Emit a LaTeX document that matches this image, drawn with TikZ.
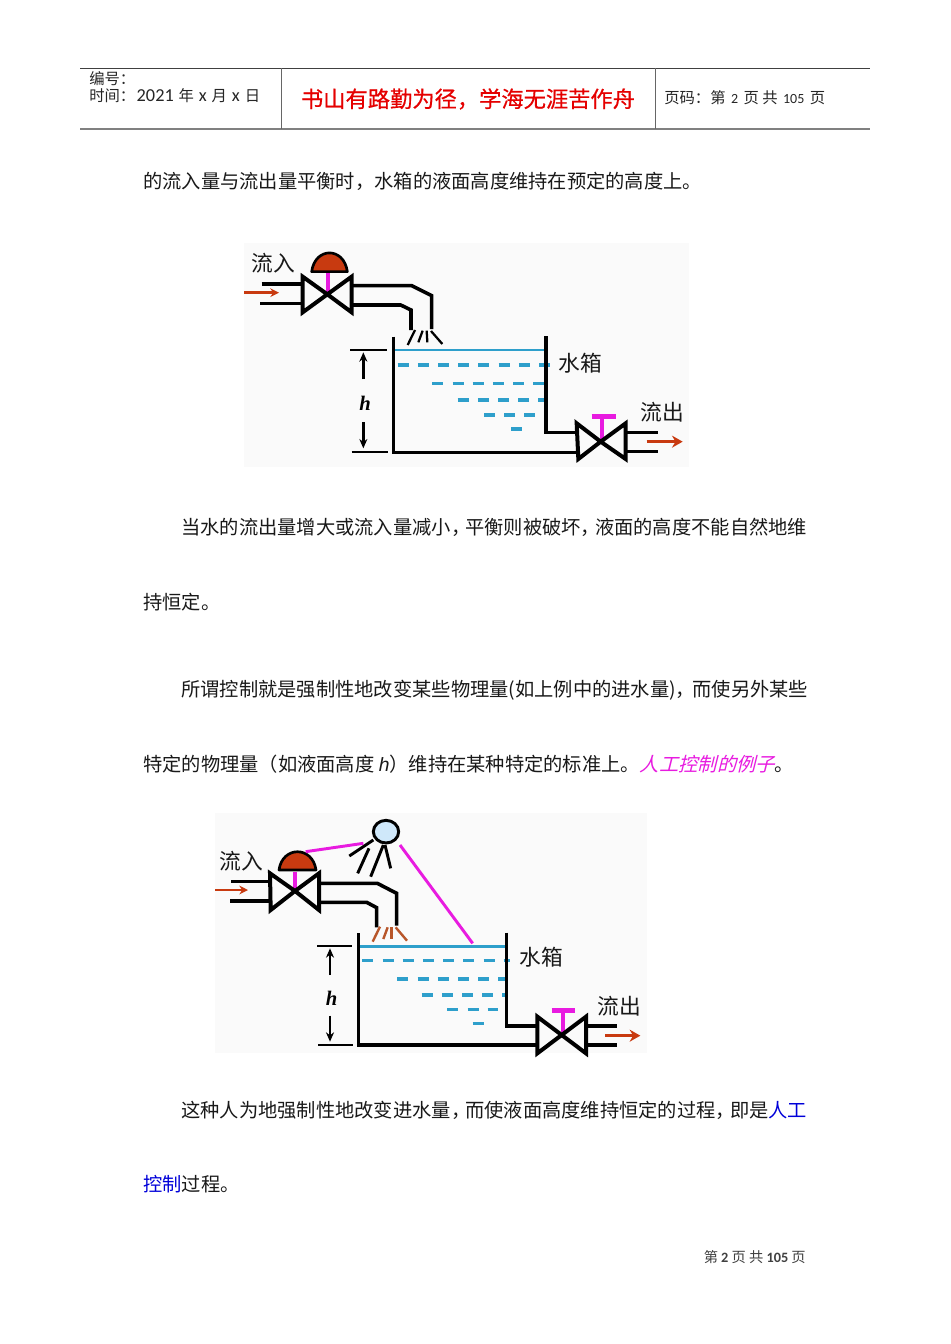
\documentclass[tikz,border=0pt]{standalone}
\usepackage{fontspec}
\usetikzlibrary{arrows.meta}
\setmainfont{Noto Sans CJK SC}
\newfontfamily\cjk{Noto Sans CJK SC}
\newfontfamily\cjkmed[FakeBold=0.6]{Noto Sans CJK SC}
\newfontfamily\cjkslant[FakeSlant=0.25]{Noto Sans CJK SC}
\newfontfamily\lat{Carlito}
\newcommand{\hlat}[1]{\hspace{1.1pt}{\lat\fontsize{13.7}{15}\selectfont #1}\hspace{1.1pt}}
\newcommand{\plat}[1]{\hspace{1.5pt}{\lat\fontsize{10.5}{15}\selectfont #1}\hspace{1.5pt}}
\definecolor{water}{HTML}{2E9FCB}
\definecolor{rust}{HTML}{C83A10}
\definecolor{mag}{HTML}{E81BE0}
\definecolor{spray}{HTML}{B8562A}
\definecolor{bg}{HTML}{FAFAFA}
\definecolor{face}{HTML}{CFE8FA}
\tikzset{
 body/.style={anchor=base west,inner sep=0,font=\cjk\fontsize{14.45}{16}\selectfont,text=black!90},
 hdr/.style={anchor=base west,inner sep=0,font=\cjk\fontsize{11.5}{13}\selectfont,text=black!85},
 pipe/.style={draw=black,line width=2.7pt,line cap=butt,line join=miter},
 valve/.style={pipe,line width=3pt},
 stem/.style={draw=mag,line width=3.2pt},
 wdash/.style={draw=water,line width=2.3pt,dash pattern=on 8.25pt off 6.9pt},
 wline/.style={draw=water,line width=2.2pt},
 tick/.style={draw=black,line width=1.7pt},
 harrow/.style={draw=black,line width=1.8pt,-{Stealth[length=7pt,width=6pt]}},
 flow/.style={draw=rust,line width=1.8pt,-{Stealth[length=6.5pt,width=6.5pt]}},
 flowb/.style={draw=rust,line width=2.6pt,-{Stealth[length=8pt,width=9pt]}},
 lbl/.style={inner sep=0,font=\cjk\fontsize{16.3}{17}\selectfont,text=black!90},
 hlabel/.style={inner sep=0,font=\fontspec{Liberation Serif}\bfseries\itshape\fontsize{15.5}{16}\selectfont},
 thinspray/.style={draw=black,line width=1.7pt},
 orangespray/.style={draw=spray,line width=1.8pt},
 person/.style={draw=black,line width=2.2pt},
 dome/.style={draw=black,fill=rust,line width=2pt,line join=round},
 wire/.style={draw=mag,line width=2.2pt},
}
\begin{document}
\begin{tikzpicture}[x=0.75pt,y=-0.75pt]
\useasboundingbox (0,0) rectangle (950,1344);
\fill[white] (0,0) rectangle (950,1344);
% header
\draw[black!75,line width=.7pt] (80,68.5) -- (870,68.5);
\draw[black!50,line width=1.1pt] (80,129) -- (870,129);
\draw[black!60,line width=.6pt] (281,68.5) -- (281,129);
\draw[black!60,line width=.6pt] (655,68.5) -- (655,129);
\node[hdr] (h1) at (89,85) {编号：};
\node[hdr] (h2) at (89,102) {时间：\hlat{2021} 年 \hlat{x} 月 \hlat{x} 日};
\node[anchor=center,inner sep=0,font=\cjkmed\fontsize{16.7}{18}\selectfont,text=red!90!black] (h3) at (468,99) {书山有路勤为径，学海无涯苦作舟};
\node[hdr] (h4) at (664,104) {页码：第 \plat{2} 页 共 \plat{105} 页};
% body
\node[body] (t1) at (143,188.5) {的流入量与流出量平衡时，水箱的液面高度维持在预定的高度上。};
\node[body] (t2) at (181,534) {当水的流出量增大或流入量减小，\hspace{-3.75pt}平衡则被破坏，\hspace{-3.75pt}液面的高度不能自然地维};
\node[body] (t3) at (143,609) {持恒定。};
\node[body] (t4) at (181,696) {所谓控制就是强制性地改变某些物理量(如上例中的进水量)，\hspace{-2pt}而使另外某些};
\node[body] (t5) at (143,771) {特定的物理量（如液面高度 {\fontspec{Liberation Sans}\itshape h}）维持在某种特定的标准上。{\color{mag}\cjkslant 人工控制的例子}。};
\node[body] (t6) at (181,1117) {这种人为地强制性地改变进水量，\hspace{-3.75pt}而使液面高度维持恒定的过程，\hspace{-3.75pt}即是{\color{blue!85!black}人工}};
\node[body] (t7) at (143,1191) {{\color{blue!85!black}控制}过程。};
\node[anchor=base east,inner sep=0,font=\cjk\fontsize{10.7}{12}\selectfont,text=black!75] (foot) at (806,1262) {第 {\lat\bfseries 2} 页 共 {\lat\bfseries 105} 页};
% diagram 1
\begin{scope}[shift={(230,235)},x=0.25pt,y=-0.25pt]
\fill[bg] (42,25) rectangle (1378,695);
\draw[wline] (490,345) -- (945,345);
\draw[wdash] (503,390) -- (960,390);
\draw[wdash] (607,445) -- (945,445);
\draw[wdash] (683,495) -- (945,495);
\draw[wdash] (762,540) -- (917,540);
\draw[wdash] (843,582) -- (898,582);
\draw[pipe] (95,147) -- (215,147);
\draw[pipe] (90,206) -- (215,206);
\draw[pipe] (365,152) -- (545,152) -- (605,182) -- (605,282);
\draw[pipe] (365,210) -- (512,210) -- (543,225) -- (543,285);
\draw[stem] (293,115) -- (293,178);
\draw[valve] (218,125) -- (292,178) -- (365,125) -- (365,232) -- (292,178) -- (218,232) -- cycle;
\draw[dome] (245,110) .. controls (255,35) and (342,35) .. (352,110) -- cycle;
\draw[thinspray] (555,285) -- (533,330);
\draw[thinspray] (578,287) -- (565,322);
\draw[thinspray] (590,287) -- (592,322);
\draw[thinspray] (603,288) -- (637,327);
\draw[pipe] (490,305) -- (490,652) -- (1040,652);
\draw[pipe] (948,303) -- (948,592) -- (1035,592);
\draw[tick] (360,345) -- (470,345);
\draw[tick] (365,652) -- (473,652);
\draw[harrow] (400,432) -- (400,352);
\draw[harrow] (400,562) -- (400,640);
\node[hlabel] (hA) at (405,505) {h};
\draw[pipe] (1187,593) -- (1285,593);
\draw[pipe] (1187,650) -- (1285,650);
\draw[stem] (1117,545) -- (1117,620);
\draw[stem,line width=3.5pt] (1085,545) -- (1157,545);
\draw[valve] (1040,565) -- (1112,620) -- (1187,565) -- (1187,672) -- (1112,620) -- (1045,672) -- cycle;
\draw[flow] (42,173) -- (147,173);
\draw[flowb] (1250,620) -- (1358,620);
\node[lbl] (inA) at (130,85) {流入};
\node[lbl] (tankA) at (1050,385) {水箱};
\node[lbl] (outA) at (1297,533) {流出};
\end{scope}
% diagram 2
\begin{scope}[shift={(205,805)},x=0.25pt,y=-0.25pt]
\fill[bg] (30,25) rectangle (1325,745);
\draw[wline] (461,424) -- (903,424);
\draw[wdash] (472,467) -- (915,467);
\draw[wdash] (577,522) -- (905,522);
\draw[wdash] (650,570) -- (910,570);
\draw[wdash] (727,613) -- (880,613);
\draw[wdash] (803,655) -- (860,655);
\draw[pipe] (78,230) -- (195,230);
\draw[pipe] (75,288) -- (195,288);
\draw[pipe] (342,235) -- (517,235) -- (575,265) -- (575,362);
\draw[pipe] (342,292) -- (485,292) -- (515,308) -- (515,367);
\draw[stem] (270,200) -- (270,258);
\draw[valve] (195,205) -- (270,258) -- (342,205) -- (342,315) -- (270,258) -- (197,315) -- cycle;
\draw[dome] (222,195) .. controls (232,122) and (323,122) .. (333,195) -- cycle;
\draw[orangespray] (525,365) -- (503,410);
\draw[orangespray] (548,367) -- (535,402);
\draw[orangespray] (560,367) -- (560,402);
\draw[orangespray] (572,367) -- (606,407);
\draw[pipe] (461,385) -- (461,720) -- (1000,720);
\draw[pipe] (905,383) -- (905,663) -- (995,663);
\draw[tick] (337,423) -- (440,423);
\draw[tick] (340,720) -- (445,720);
\draw[harrow] (375,510) -- (375,430);
\draw[harrow] (375,632) -- (375,710);
\node[hlabel] (hB) at (380,580) {h};
\draw[pipe] (1143,663) -- (1235,663);
\draw[pipe] (1143,720) -- (1235,720);
\draw[stem] (1073,617) -- (1073,690);
\draw[stem,line width=3.5pt] (1040,617) -- (1110,617);
\draw[valve] (997,635) -- (1070,690) -- (1143,635) -- (1143,745) -- (1070,690) -- (997,745) -- cycle;
\draw[flow] (30,255) -- (129,255);
\draw[flowb] (1200,692) -- (1306,692);
\node[lbl] (inB) at (110,168) {流入};
\node[lbl] (tankB) at (1008,458) {水箱};
\node[lbl] (outB) at (1243,605) {流出};
% person
\draw[person,fill=face] (543,80) ellipse [x radius=38,y radius=34];
\draw[person] (505,105) -- (433,153);
\draw[person] (492,130) -- (458,205);
\draw[person] (535,120) -- (497,215);
\draw[person] (540,120) -- (557,190);
\draw[wire] (302,140) -- (475,115);
\draw[wire] (585,120) -- (803,415);
\end{scope}
\end{tikzpicture}
\end{document}
